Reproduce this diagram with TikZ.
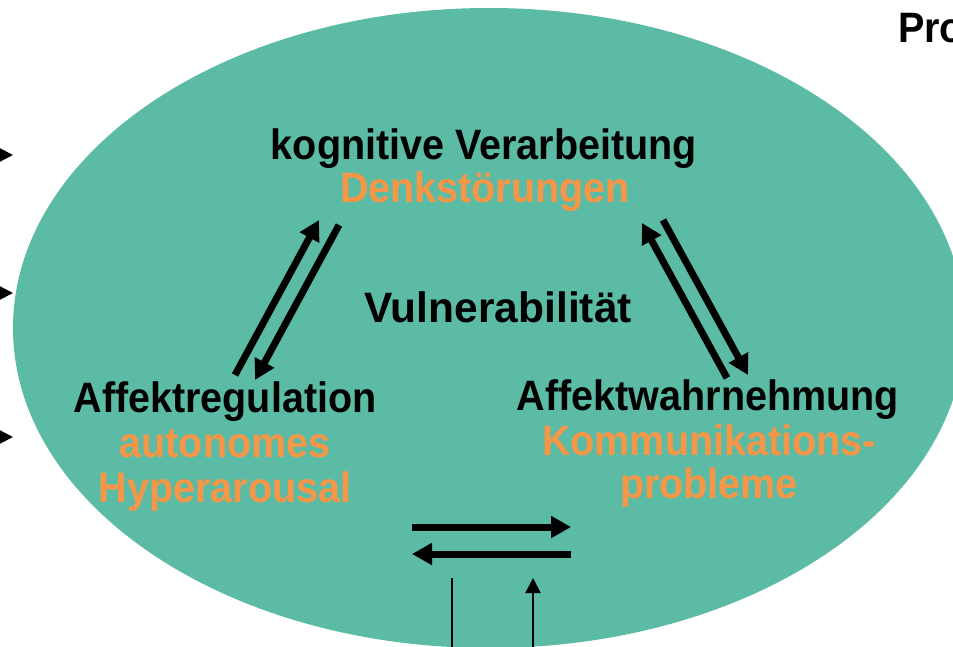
\documentclass[tikz,border=0pt]{standalone}
\usepackage{fontspec}
\setmainfont{Liberation Sans}[FakeStretch=0.93]
\newfontfamily\plainfont{Liberation Sans}
\usetikzlibrary{arrows.meta}
\definecolor{ellgreen}{RGB}{91,187,165}
\definecolor{txtorange}{RGB}{247,150,70}
\tikzset{
  lbl/.style={inner sep=0pt, anchor=base, font=\fontsize{42.5}{51}\selectfont\bfseries},
  blk/.style={lbl, text=black},
  org/.style={lbl, text=txtorange},
  thick arrow/.style={line width=7pt, -{Triangle[length=20pt,width=21pt]}},
  thin arrow/.style={line width=2pt, -{Triangle[length=15pt,width=15pt]}},
  edge arrow/.style={line width=2pt, -{Triangle[length=13pt,width=13pt]}},
  thin line/.style={line width=2pt}
}
\begin{document}
\begin{tikzpicture}[x=1pt,y=-1pt]
\useasboundingbox (0,0) rectangle (953,647);
\fill[ellgreen] (489,328) ellipse [x radius=476pt, y radius=320pt];

% texts
\node[blk] (kog) at (484,160) {kognitive Verarbeitung};
\node[org] (denk) at (485,203) {Denkstörungen};
\node[blk, font=\plainfont\fontsize{42.5}{51}\selectfont\bfseries] (vul) at (498,322) {Vulnerabilität};
\node[blk] (areg) at (225,412) {Affektregulation};
\node[org] (auto) at (225,457) {autonomes};
\node[org] (hyp) at (225,502) {Hyperarousal};
\node[blk] (awahr) at (708,410) {Affektwahrnehmung};
\node[org] (komm) at (709,455) {Kommunikations-};
\node[org] (prob) at (709,498) {probleme};
\node[blk, anchor=base west] (pro) at (898,43) {Pro};

% arrow end points
\coordinate (l1a) at (235,375);
\coordinate (l1b) at (319,220);
\coordinate (l2a) at (339,225);
\coordinate (l2b) at (255,380);
\coordinate (r1a) at (727,378);
\coordinate (r1b) at (642,223);
\coordinate (r2a) at (663,220);
\coordinate (r2b) at (748,375);
\coordinate (b1a) at (412,527);
\coordinate (b1b) at (571,527);
\coordinate (b2a) at (571,554);
\coordinate (b2b) at (412,554);
\coordinate (v1a) at (452,578);
\coordinate (v1b) at (452,660);
\coordinate (v2a) at (533,660);
\coordinate (v2b) at (533,578);
\coordinate (e1a) at (-40,155);
\coordinate (e1b) at (13,155);
\coordinate (e2a) at (-40,293);
\coordinate (e2b) at (13,293);
\coordinate (e3a) at (-40,437);
\coordinate (e3b) at (13,437);

\draw[thick arrow] (l1a) -- (l1b);
\draw[thick arrow] (l2a) -- (l2b);
\draw[thick arrow] (r1a) -- (r1b);
\draw[thick arrow] (r2a) -- (r2b);
\draw[thick arrow] (b1a) -- (b1b);
\draw[thick arrow] (b2a) -- (b2b);
\draw[thin line] (v1a) -- (v1b);
\draw[thin arrow] (v2a) -- (v2b);
\draw[edge arrow] (e1a) -- (e1b);
\draw[edge arrow] (e2a) -- (e2b);
\draw[edge arrow] (e3a) -- (e3b);
\end{tikzpicture}
\end{document}
